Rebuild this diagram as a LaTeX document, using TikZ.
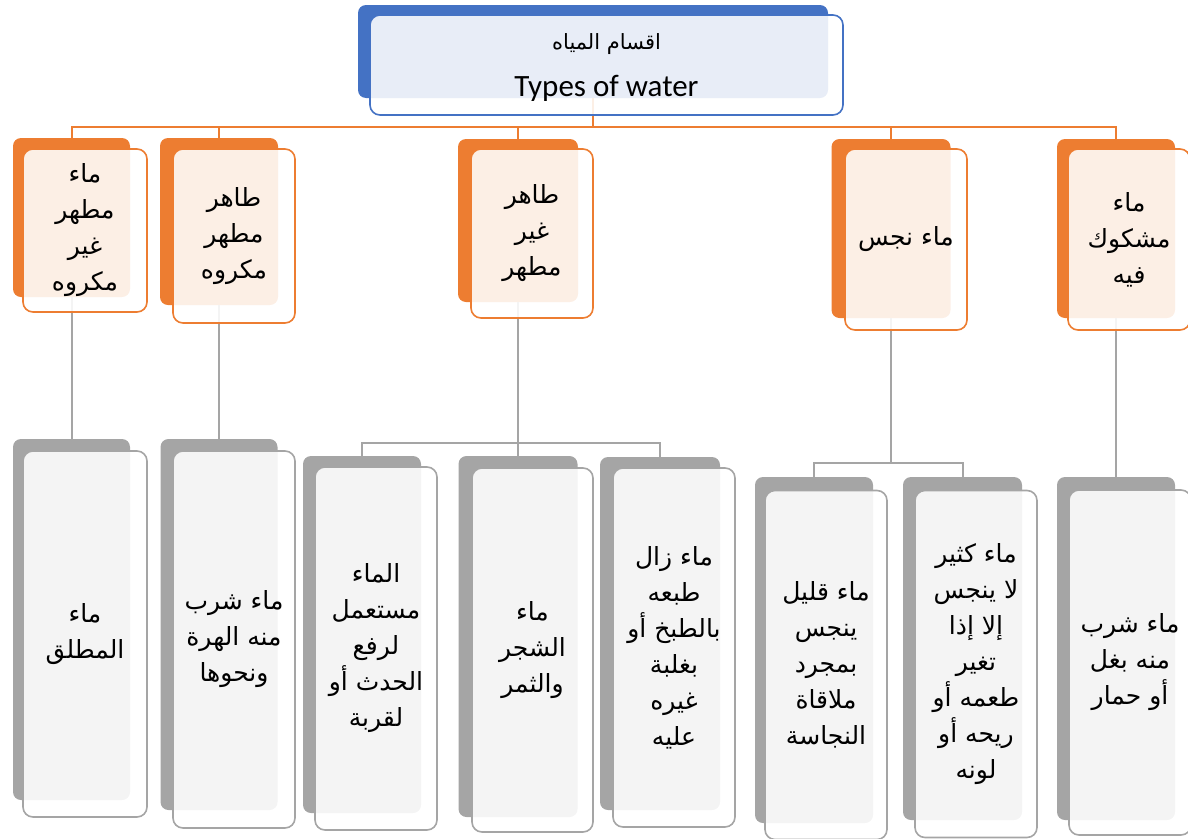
\documentclass[tikz,border=0pt]{standalone}
\usepackage{fontspec}
\setmainfont{Carlito}
\newfontfamily\arabicfont[Script=Arabic]{DejaVu Sans}
\TeXXeTstate=1
\usetikzlibrary{positioning}
\definecolor{wblue}{HTML}{4472C4}
\definecolor{worange}{HTML}{ED7D31}
\definecolor{wgray}{HTML}{A5A5A5}
\newcommand{\ar}[1]{{\arabicfont\beginR #1\endR}}
\tikzset{backbox/.style={rounded corners=8, inner sep=0, outer sep=0, fill=#1}}
\tikzset{frontbox/.style={rounded corners=10, inner sep=0, outer sep=0, draw=#1, line width=1.6, fill=white, fill opacity=0.88, text opacity=1, align=center, font=\fontsize{25}{36}\selectfont}}
\tikzset{oline/.style={draw=worange, line width=2}, gline/.style={draw=wgray, line width=2}}

\begin{document}
\begin{tikzpicture}[x=1pt, y=-1pt]
	\clip (0,0) rectangle (1188,838);
	% back plates
	\node[backbox=wblue, minimum width=470, minimum height=93] (tb) at (593,51.5) {};
	\node[backbox=worange, minimum width=117, minimum height=159] (o1b) at (71.5,217.5) {};
	\node[backbox=worange, minimum width=118, minimum height=167] (o2b) at (219,221.5) {};
	\node[backbox=worange, minimum width=120, minimum height=163] (o3b) at (518,220.5) {};
	\node[backbox=worange, minimum width=119, minimum height=179] (o4b) at (891,228.5) {};
	\node[backbox=worange, minimum width=118, minimum height=179] (o5b) at (1116,228.5) {};
	\node[backbox=wgray, minimum width=117, minimum height=361] (g1b) at (71.5,619.5) {};
	\node[backbox=wgray, minimum width=117, minimum height=371] (g2b) at (219,624.5) {};
	\node[backbox=wgray, minimum width=118, minimum height=357] (g3b) at (362,634.5) {};
	\node[backbox=wgray, minimum width=119, minimum height=361] (g4b) at (518,636.5) {};
	\node[backbox=wgray, minimum width=120, minimum height=353] (g5b) at (660,633.5) {};
	\node[backbox=wgray, minimum width=118, minimum height=346] (g6b) at (814,650) {};
	\node[backbox=wgray, minimum width=119, minimum height=343] (g7b) at (962.5,648.5) {};
	\node[backbox=wgray, minimum width=118, minimum height=343] (g8b) at (1116,648.5) {};

	\coordinate (bus) at (593,127);
	\coordinate (fork3) at (518,443);
	\coordinate (fork4) at (891,463);

	\begin{scope}[oline]
		\draw (tb.south) -- (bus);
		\draw (o1b.north) |- (bus);
		\draw (o2b.north) |- (bus);
		\draw (o3b.north) |- (bus);
		\draw (o4b.north) |- (bus);
		\draw (o5b.north) |- (bus);
	\end{scope}
	\begin{scope}[gline]
		\draw (o1b.south) -- (g1b.north);
		\draw (o2b.south) -- (g2b.north);
		\draw (o3b.south) -- (fork3);
		\draw (g3b.north) |- (fork3);
		\draw (g4b.north) -- (fork3);
		\draw (g5b.north) |- (fork3);
		\draw (o4b.south) -- (fork4);
		\draw (g6b.north) |- (fork4);
		\draw (g7b.north) |- (fork4);
		\draw (o5b.south) -- (g8b.north);
	\end{scope}

	% front cards
	\node[frontbox=wblue, minimum width=473, minimum height=100] (tf) at (606.5,65) {};
	\node[font=\fontsize{21}{22}\selectfont] (titlear) at (606.5,44) {\ar{اقسام المياه}};
	\node[font=\fontsize{31}{32}\selectfont] (titleen) at (606.5,88) {Types of water};
	\node[frontbox=worange, minimum width=124, minimum height=163] (o1) at (85,230.5) {\ar{ماء}\\\ar{مطهر}\\\ar{غير}\\\ar{مكروه}};
	\node[frontbox=worange, minimum width=122, minimum height=174] (o2) at (234,236) {\ar{طاهر}\\\ar{مطهر}\\\ar{مكروه}};
	\node[frontbox=worange, minimum width=122, minimum height=169] (o3) at (532,233.5) {\ar{طاهر}\\\ar{غير}\\\ar{مطهر}};
	\node[frontbox=worange, minimum width=122, minimum height=181] (o4) at (906,239.5) {\ar{ماء نجس}};
	\node[frontbox=worange, minimum width=122, minimum height=181] (o5) at (1129,239.5) {\ar{ماء}\\\ar{مشكوك}\\\ar{فيه}};

	\node[frontbox=wgray, minimum width=124, minimum height=366] (g1) at (85,634) {\ar{ماء}\\\ar{المطلق}};
	\node[frontbox=wgray, minimum width=122, minimum height=377] (g2) at (234,639.5) {\ar{ماء شرب}\\\ar{منه الهرة}\\\ar{ونحوها}};
	\node[frontbox=wgray, minimum width=122, minimum height=363] (g3) at (376,648.5) {\ar{الماء}\\\ar{مستعمل}\\\ar{لرفع}\\\ar{الحدث أو}\\\ar{لقربة}};
	\node[frontbox=wgray, minimum width=121, minimum height=364] (g4) at (532.5,650) {\ar{ماء}\\\ar{الشجر}\\\ar{والثمر}};
	\node[frontbox=wgray, minimum width=122, minimum height=359] (g5) at (674,647.5) {\ar{ماء زال}\\\ar{طبعه}\\\ar{بالطبخ أو}\\\ar{بغلبة}\\\ar{غيره}\\\ar{عليه}};
	\node[frontbox=wgray, minimum width=122, minimum height=349] (g6) at (826,665) {\ar{ماء قليل}\\\ar{ينجس}\\\ar{بمجرد}\\\ar{ملاقاة}\\\ar{النجاسة}};
	\node[frontbox=wgray, minimum width=122, minimum height=347] (g7) at (976,664) {\ar{ماء كثير}\\\ar{لا ينجس}\\\ar{إلا إذا}\\\ar{تغير}\\\ar{طعمه أو}\\\ar{ريحه أو}\\\ar{لونه}};
	\node[frontbox=wgray, minimum width=122, minimum height=345] (g8) at (1130,662.5) {\ar{ماء شرب}\\\ar{منه بغل}\\\ar{أو حمار}};
\end{tikzpicture}
\end{document}
